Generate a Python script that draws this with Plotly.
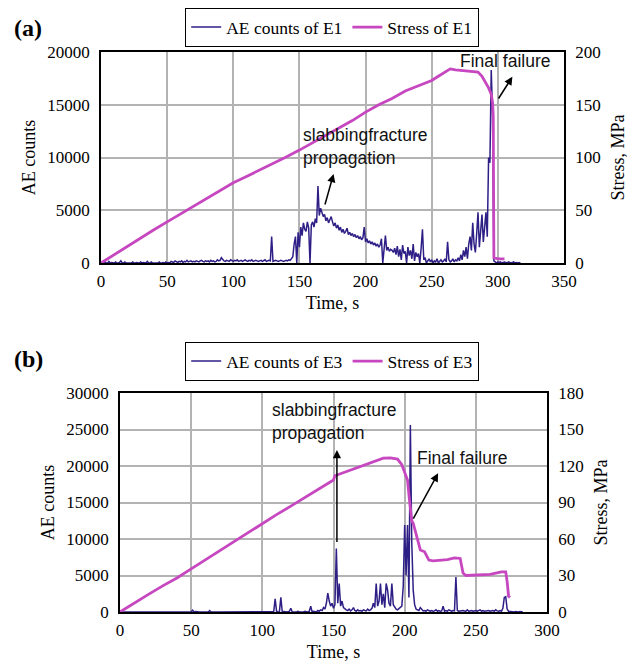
import plotly.graph_objects as go

# The page body has an 8px margin, so the figure is drawn 8px in from the
# window's top-left corner; positions below are given in window pixels.
OFF = 8
W, H = 638 - OFF, 665 - OFF


def fx(p):
    return (p - OFF) / W


def fy(p):
    return 1 - (p - OFF) / H


AE_COLOR = "#2E1F86"
ST_COLOR = "#C647BF"
GRID = "#B3B3B3"
SERIF = "Liberation Serif, Times New Roman, serif"
SANS = "Liberation Sans, Arial, sans-serif"

# ---------------- Panel (a): E1 ----------------
time_a = list(range(0, 318))
ae_a = [
    0, 50, 0, 100, 0, 0, 150, 0, 50, 0,
    0, 100, 0, 0, 50, 200, 0, 0, 100, 0,
    0, 0, 50, 0, 100, 0, 0, 50, 0, 0,
    100, 0, 50, 0, 0, 150, 0, 0, 100, 0,
    0, 50, 0, 0, 100, 0, 0, 50, 0, 100,
    0, 50, 0, 150, 100, 50, 200, 100, 50, 150,
    100, 200, 50, 150, 100, 250, 100, 150, 200, 100,
    150, 100, 200, 150, 100, 200, 250, 150, 100, 200,
    150, 200, 100, 250, 150, 200, 100, 150, 300, 200,
    250, 500, 300, 200, 150, 250, 200, 150, 300, 200,
    150, 250, 200, 300, 150, 200, 250, 150, 200, 300,
    200, 150, 250, 200, 300, 150, 200, 250, 200, 150,
    200, 250, 150, 200, 300, 150, 200, 250, 200, 2500,
    150, 200, 250, 200, 150, 200, 250, 200, 150, 200,
    250, 200, 300, 250, 400, 600, 1800, 2500, 0, 2900,
    1500, 3400, 2600, 3800, 3200, 3000, 3900, 3300, 0, 3600,
    3900, 3400, 4200, 3800, 7300, 4500, 5200, 4800, 4400, 4600,
    4000, 4300, 3800, 4100, 4400, 3900, 3500, 3800, 3300, 3600,
    3100, 3400, 2900, 3200, 2800, 3000, 3300, 2700, 2900, 2600,
    2800, 2500, 2700, 2400, 2600, 2300, 2500, 2200, 2400, 3400,
    2000, 2300, 1900, 2100, 1800, 2000, 1700, 1900, 1600, 1800,
    1500, 1700, 2300, 0, 1400, 2600, 1200, 1500, 1100, 1300,
    1200, 1000, 1400, 800, 1600, 600, 1300, 300, 1700, 900,
    1100, 0, 1500, 700, 1200, 400, 1800, 200, 1000, 600,
    900, 0, 1400, 3200, 300, 500, 0, 200, 400, 100,
    300, 0, 200, 100, 400, 0, 200, 300, 100, 200,
    400, 100, 2000, 300, 100, 200, 400, 100, 300, 200,
    500, 200, 800, 300, 1200, 600, 1500, 400, 1800, 2500,
    1200, 3800, 1800, 1000, 2800, 4800, 1500, 3500, 4600, 2000,
    3200, 4800, 2500, 10000, 9500, 18300, 14000, 200, 100, 0,
    100, 50, 100, 0, 50, 100, 50, 0, 100, 50,
    0, 50, 100, 0, 50, 0, 50, 0,
]
stress_time_a = [0, 10, 20, 30, 40, 50, 60, 70, 80, 90, 100, 110, 120, 130,
                 140, 150, 160, 170, 180, 190, 200, 210, 220, 230, 240, 250,
                 255, 260, 264, 268, 275, 280, 285, 288, 291, 293, 295, 296,
                 296.5, 297, 300, 305]
stress_a = [0, 8, 16, 24, 31.5, 39, 46.5, 54, 61.5, 69, 76, 82, 88, 94.5,
            100.5, 107, 114, 121, 128, 135, 143, 150, 156, 163, 168, 173,
            177, 181, 184, 183, 182, 182, 181, 177, 171, 166, 160, 152,
            140, 5, 4, 4]

# ---------------- Panel (b): E3 ----------------
time_b = list(range(0, 284))
ae_b = [
    0, 0, 50, 0, 0, 100, 0, 0, 0, 50,
    0, 0, 0, 50, 0, 0, 0, 0, 100, 0,
    0, 50, 0, 0, 0, 0, 50, 0, 0, 0,
    0, 0, 100, 0, 0, 50, 0, 0, 0, 0,
    50, 0, 0, 0, 0, 0, 100, 0, 0, 0,
    0, 250, 0, 50, 0, 0, 0, 0, 50, 0,
    0, 0, 0, 200, 0, 0, 50, 0, 0, 0,
    0, 50, 0, 0, 0, 0, 0, 50, 0, 0,
    0, 0, 50, 0, 0, 0, 0, 0, 50, 0,
    0, 0, 0, 50, 0, 0, 0, 100, 0, 0,
    0, 50, 0, 0, 100, 0, 0, 0, 50, 1800,
    100, 0, 50, 2000, 0, 50, 0, 0, 0, 100,
    500, 0, 50, 0, 0, 100, 0, 50, 0, 0,
    100, 50, 0, 100, 800, 0, 100, 50, 0, 200,
    100, 300, 200, 600, 400, 1200, 2600, 1500, 800, 1200,
    500, 1000, 8700, 1200, 3900, 800, 1500, 600, 400, 300,
    200, 400, 150, 300, 600, 200, 100, 300, 150, 200,
    100, 300, 200, 150, 400, 200, 300, 500, 1200, 600,
    3900, 800, 1500, 3900, 1000, 2500, 600, 3900, 3000, 1200,
    800, 3900, 1000, 600, 400, 300, 500, 600, 800, 3500,
    11900, 5000, 11900, 2000, 25600, 9500, 3000, 1000, 400, 300,
    200, 600, 300, 150, 200, 100, 300, 150, 100, 200,
    100, 150, 300, 100, 200, 100, 150, 800, 100, 200,
    100, 300, 150, 100, 200, 150, 4800, 200, 100, 150,
    100, 200, 150, 100, 300, 100, 150, 200, 100, 150,
    200, 100, 150, 300, 100, 200, 100, 150, 100, 200,
    100, 150, 200, 100, 300, 150, 100, 200, 100, 500,
    2000, 2100, 400, 100, 50, 0, 50, 0, 50, 0,
    0, 50, 0, 0,
]
stress_time_b = [0, 10, 20, 30, 40, 50, 60, 70, 80, 90, 100, 110, 120, 130,
                 140, 148, 150, 151, 160, 170, 175, 180, 185, 190, 195, 198,
                 200, 202, 203, 204, 205, 206, 207, 209, 211, 214, 217, 220,
                 230, 235, 239, 240, 241, 243, 250, 260, 268, 271, 272, 273,
                 274]
stress_b = [0, 7.5, 14.5, 21.5, 28, 35.5, 43, 50.5, 58, 65, 72.5, 80, 87,
            94, 101, 107, 108.5, 112, 116, 120.5, 122.5, 124.5, 126.5, 126.6,
            125.7, 121, 114, 108.5, 96, 84, 75, 73, 69, 59, 51, 49.5, 42.7,
            42, 43, 44.5, 44, 38, 32, 30, 30.5, 31, 33, 33, 25, 13, 12]

fig = go.Figure()
fig.add_trace(go.Scatter(x=time_a, y=ae_a, mode="lines", name="AE counts of E1",
                         line=dict(color=AE_COLOR, width=1.5),
                         xaxis="x", yaxis="y", legend="legend"))
fig.add_trace(go.Scatter(x=stress_time_a, y=stress_a, mode="lines",
                         name="Stress of E1",
                         line=dict(color=ST_COLOR, width=2.8),
                         xaxis="x", yaxis="y2", legend="legend"))
fig.add_trace(go.Scatter(x=time_b, y=ae_b, mode="lines", name="AE counts of E3",
                         line=dict(color=AE_COLOR, width=1.5),
                         xaxis="x2", yaxis="y3", legend="legend2"))
fig.add_trace(go.Scatter(x=stress_time_b, y=stress_b, mode="lines",
                         name="Stress of E3",
                         line=dict(color=ST_COLOR, width=2.8),
                         xaxis="x2", yaxis="y4", legend="legend2"))

tickfont = dict(family=SERIF, size=17, color="black")
titlefont = dict(family=SERIF, size=18, color="black")


def xax(domain, anchor, rng):
    return dict(domain=domain, anchor=anchor, range=rng, dtick=50,
                showgrid=True, gridcolor=GRID, gridwidth=1.5,
                showline=True, linecolor="black", linewidth=1.5, mirror=True,
                zeroline=False, ticks="", tickfont=tickfont,
                ticklabelstandoff=2, automargin=False,
                title=dict(text="Time, s", font=titlefont, standoff=6))


def yax(domain, anchor, rng, dtick, title):
    return dict(domain=domain, anchor=anchor, range=rng, dtick=dtick,
                tickformat="d", showgrid=True, gridcolor=GRID, gridwidth=1.5,
                showline=True, linecolor="black", linewidth=1.5, mirror=True,
                zeroline=False, ticks="", tickfont=tickfont,
                ticklabelstandoff=6, automargin=False,
                title=dict(text=title, font=titlefont, standoff=7))


def y2ax(over, anchor, rng, dtick):
    return dict(overlaying=over, anchor=anchor, side="right", range=rng,
                dtick=dtick, showgrid=False, showline=True, linecolor="black",
                linewidth=1.5, zeroline=False, ticks="", tickfont=tickfont,
                ticklabelstandoff=6, automargin=False,
                title=dict(text="Stress, MPa", font=titlefont, standoff=12))


legend_common = dict(orientation="h", bgcolor="white", bordercolor="black",
                     borderwidth=1.2, font=dict(family=SERIF, size=17.5,
                                                color="black"),
                     xanchor="center", yanchor="top")

fig.update_layout(
    width=W, height=H, template="none",
    paper_bgcolor="white", plot_bgcolor="white",
    margin=dict(l=0, r=0, t=0, b=0),
    xaxis=xax([fx(101), fx(564)], "y", [0, 350]),
    yaxis=yax([fy(263), fy(52)], "x", [0, 20000], 5000, "AE counts"),
    yaxis2=y2ax("y", "x", [0, 200], 50),
    xaxis2=xax([fx(120), fx(547)], "y3", [0, 300]),
    yaxis3=yax([fy(612), fy(393)], "x2", [0, 30000], 5000, "AE counts"),
    yaxis4=y2ax("y3", "x2", [0, 180], 30),
    legend=dict(x=fx(332), y=fy(8), **legend_common),
    legend2=dict(x=fx(332), y=fy(342), **legend_common),
    showlegend=True,
)

ann = []
# panel labels
ann.append(dict(text="<b>(a)</b>", x=fx(12), y=fy(28), xref="paper", yref="paper",
                xanchor="left", yanchor="middle", showarrow=False,
                font=dict(family=SERIF, size=24, color="black")))
ann.append(dict(text="<b>(b)</b>", x=fx(12), y=fy(359), xref="paper", yref="paper",
                xanchor="left", yanchor="middle", showarrow=False,
                font=dict(family=SERIF, size=24, color="black")))
afont = dict(family=SANS, size=17.5, color="#111111")
# (a) texts
ann.append(dict(text="slabbingfracture<br>propagation", x=fx(301), y=fy(146),
                xref="paper", yref="paper", xanchor="left", yanchor="middle",
                align="left", showarrow=False, font=afont))
ann.append(dict(text="Final failure", x=fx(505), y=fy(61), xref="paper",
                yref="paper", xanchor="center", yanchor="middle",
                showarrow=False, font=afont))
# (b) texts
ann.append(dict(text="slabbingfracture<br>propagation", x=fx(270), y=fy(421),
                xref="paper", yref="paper", xanchor="left", yanchor="middle",
                align="left", showarrow=False, font=afont))
ann.append(dict(text="Final failure", x=fx(462), y=fy(458), xref="paper",
                yref="paper", xanchor="center", yanchor="middle",
                showarrow=False, font=afont))

# arrows (head at x,y ; tail at ax,ay) in data coordinates
arrows = [
    ("x", "y", 175.8, 8440, 169, 5400),
    ("x", "y", 311, 17660, 299.8, 15450),
    ("x2", "y3", 152.4, 22200, 152.4, 9400),
    ("x2", "y3", 223.5, 19000, 205.5, 12600),
]
for xr, yr, hx, hy, tx, ty in arrows:
    ann.append(dict(x=hx, y=hy, ax=tx, ay=ty, xref=xr, yref=yr, axref=xr,
                    ayref=yr, text="", showarrow=True, arrowhead=2,
                    arrowsize=1.1, arrowwidth=1.5, arrowcolor="black"))

fig.update_layout(annotations=ann)
fig.write_html("out.html")
